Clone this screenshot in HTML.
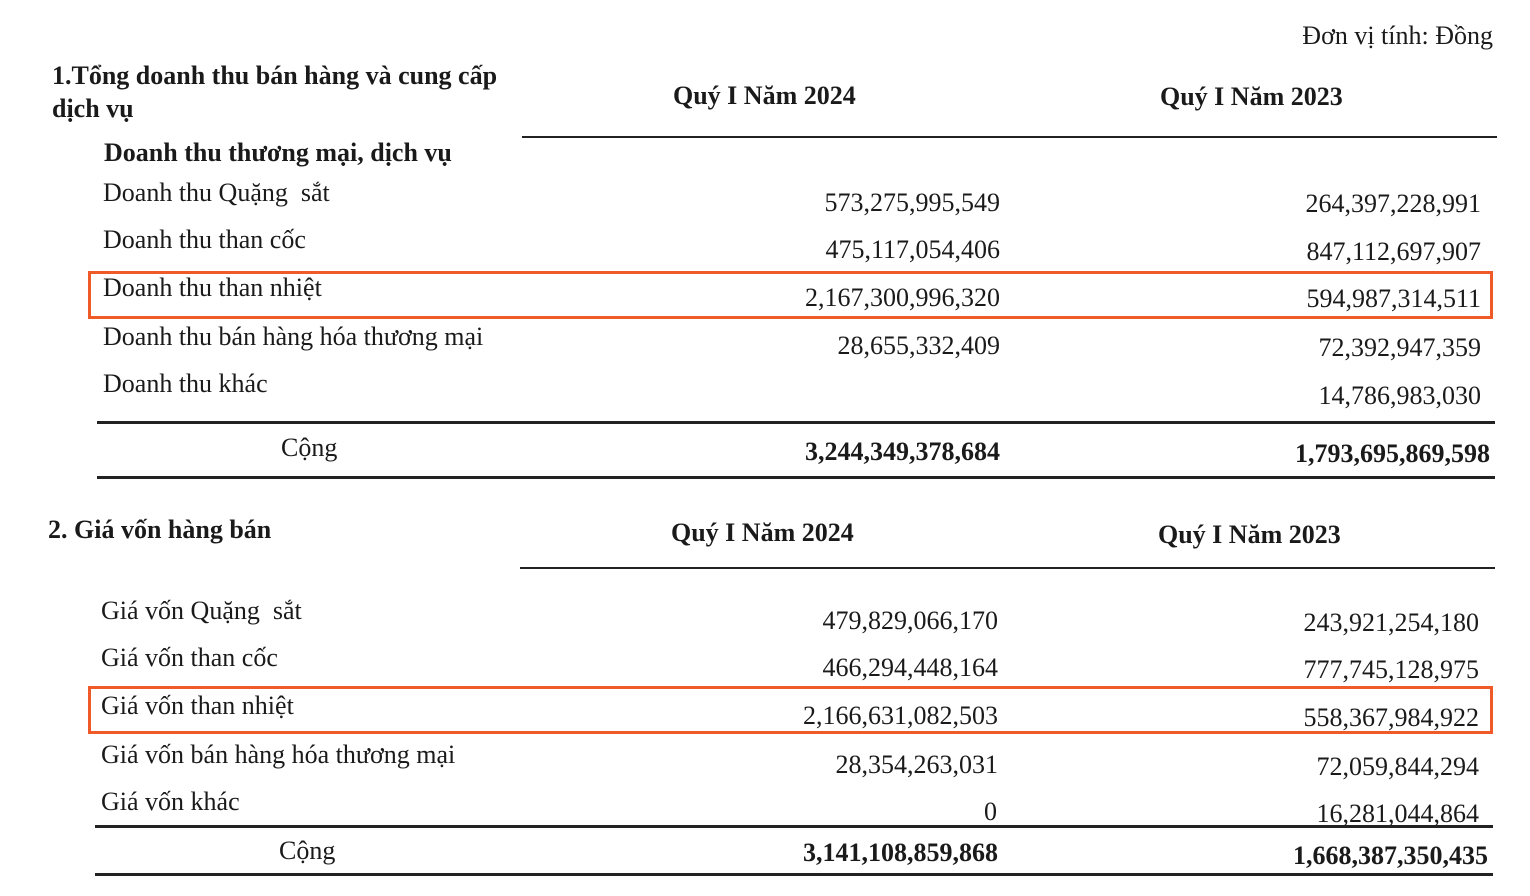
<!DOCTYPE html>
<html><head><meta charset="utf-8"><style>
html,body{margin:0;padding:0;background:#fff;}
body{width:1530px;height:896px;position:relative;overflow:hidden;font-family:"Liberation Serif",serif;color:#1a1a1a;font-size:26px;}
.t{position:absolute;line-height:30px;white-space:nowrap;}
.b{font-weight:bold;}
.r{text-align:right;}
.l{position:absolute;background:#222;height:2px;}
.box{position:absolute;border:3px solid #f05a28;box-sizing:border-box;}
</style></head><body>
<div class="t r" style="right:37px;top:21px;">Đơn vị tính: Đồng</div>
<div class="t b" style="left:52px;top:61px;">1.Tổng doanh thu bán hàng và cung cấp</div>
<div class="t b" style="left:52px;top:94px;">dịch vụ</div>
<div class="t b" style="left:673px;top:81px;">Quý I Năm 2024</div>
<div class="t b" style="left:1160px;top:82px;">Quý I Năm 2023</div>
<div class="l" style="left:522px;top:136px;width:975px;"></div>
<div class="t b" style="left:104px;top:138px;">Doanh thu thương mại, dịch vụ</div>

<div class="t" style="left:103px;top:178px;">Doanh thu Quặng&nbsp; sắt</div>
<div class="t r" style="right:530px;top:188px;">573,275,995,549</div>
<div class="t r" style="right:49px;top:189px;">264,397,228,991</div>

<div class="t" style="left:103px;top:225px;">Doanh thu than cốc</div>
<div class="t r" style="right:530px;top:235px;">475,117,054,406</div>
<div class="t r" style="right:49px;top:237px;">847,112,697,907</div>

<div class="t" style="left:103px;top:273px;">Doanh thu than nhiệt</div>
<div class="t r" style="right:530px;top:283px;">2,167,300,996,320</div>
<div class="t r" style="right:49px;top:284px;">594,987,314,511</div>

<div class="t" style="left:103px;top:322px;">Doanh thu bán hàng hóa thương mại</div>
<div class="t r" style="right:530px;top:331px;">28,655,332,409</div>
<div class="t r" style="right:49px;top:333px;">72,392,947,359</div>

<div class="t" style="left:103px;top:369px;">Doanh thu khác</div>
<div class="t r" style="right:49px;top:381px;">14,786,983,030</div>

<div class="l" style="left:97px;top:421px;width:1398px;height:3px;"></div>
<div class="t" style="left:281px;top:433px;">Cộng</div>
<div class="t b r" style="right:530px;top:437px;">3,244,349,378,684</div>
<div class="t b r" style="right:40px;top:439px;">1,793,695,869,598</div>
<div class="l" style="left:97px;top:476px;width:1398px;height:3px;"></div>

<div class="t b" style="left:48px;top:515px;">2. Giá vốn hàng bán</div>
<div class="t b" style="left:671px;top:518px;">Quý I Năm 2024</div>
<div class="t b" style="left:1158px;top:520px;">Quý I Năm 2023</div>
<div class="l" style="left:520px;top:567px;width:975px;"></div>

<div class="t" style="left:101px;top:596px;">Giá vốn Quặng&nbsp; sắt</div>
<div class="t r" style="right:532px;top:606px;">479,829,066,170</div>
<div class="t r" style="right:51px;top:608px;">243,921,254,180</div>

<div class="t" style="left:101px;top:643px;">Giá vốn than cốc</div>
<div class="t r" style="right:532px;top:653px;">466,294,448,164</div>
<div class="t r" style="right:51px;top:655px;">777,745,128,975</div>

<div class="t" style="left:101px;top:691px;">Giá vốn than nhiệt</div>
<div class="t r" style="right:532px;top:701px;">2,166,631,082,503</div>
<div class="t r" style="right:51px;top:703px;">558,367,984,922</div>

<div class="t" style="left:101px;top:740px;">Giá vốn bán hàng hóa thương mại</div>
<div class="t r" style="right:532px;top:750px;">28,354,263,031</div>
<div class="t r" style="right:51px;top:752px;">72,059,844,294</div>

<div class="t" style="left:101px;top:787px;">Giá vốn khác</div>
<div class="t r" style="right:533px;top:797px;">0</div>
<div class="t r" style="right:51px;top:799px;">16,281,044,864</div>

<div class="l" style="left:95px;top:825px;width:1398px;height:3px;"></div>
<div class="t" style="left:279px;top:836px;">Cộng</div>
<div class="t b r" style="right:532px;top:838px;">3,141,108,859,868</div>
<div class="t b r" style="right:42px;top:841px;">1,668,387,350,435</div>
<div class="l" style="left:95px;top:873px;width:1398px;height:3px;"></div>

<div class="box" style="left:88px;top:271px;width:1405px;height:48px;"></div>
<div class="box" style="left:88px;top:686px;width:1405px;height:48px;"></div>
</body></html>
